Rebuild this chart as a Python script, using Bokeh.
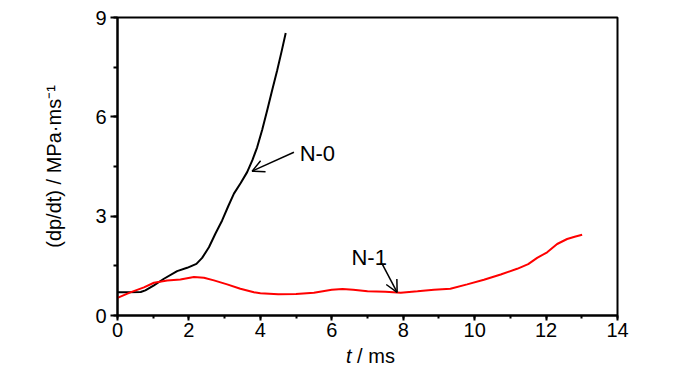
from bokeh.plotting import figure
from bokeh.models import Range1d, SingleIntervalTicker, Label, Arrow, OpenHead, Div
from bokeh.layouts import column
from bokeh.embed import file_html
from bokeh.resources import INLINE

# N-0 (black)
t_n0 = [0.0, 0.3, 0.65, 0.78, 1.02, 1.3, 1.67, 1.95, 2.21, 2.37, 2.56, 2.74, 2.93,
        3.1, 3.26, 3.45, 3.63, 3.78, 3.91, 4.05, 4.19, 4.33, 4.47, 4.6, 4.71]
y_n0 = [0.70, 0.70, 0.71, 0.76, 0.91, 1.11, 1.34, 1.44, 1.56, 1.74, 2.06, 2.47, 2.87,
        3.30, 3.68, 4.00, 4.33, 4.70, 5.08, 5.60, 6.19, 6.80, 7.40, 8.00, 8.53]

# N-1 (red)
t_n1 = [0.0, 0.36, 0.74, 1.02, 1.39, 1.76, 2.14, 2.42, 2.7, 3.07, 3.44, 3.82, 4.0,
        4.5, 5.0, 5.5, 6.0, 6.3, 6.6, 7.0, 7.5, 7.93, 8.4, 8.86, 9.32, 9.79,
        10.26, 10.73, 11.19, 11.5, 11.75, 12.03, 12.31, 12.59, 12.8, 13.01]
y_n1 = [0.53, 0.70, 0.85, 0.99, 1.06, 1.09, 1.16, 1.14, 1.06, 0.94, 0.81, 0.70, 0.67,
        0.64, 0.65, 0.69, 0.78, 0.80, 0.78, 0.73, 0.72, 0.69, 0.73, 0.78, 0.81, 0.94,
        1.08, 1.24, 1.41, 1.55, 1.74, 1.91, 2.16, 2.31, 2.38, 2.44]

FONT = "Liberation Sans"

p = figure(frame_width=500, frame_height=298, output_backend="svg", toolbar_location=None,
           x_range=Range1d(0, 14), y_range=Range1d(0, 9),
           min_border_left=117, min_border_right=67, min_border_top=17, min_border_bottom=30)
p.grid.visible = False
p.outline_line_color = "black"
p.outline_line_width = 2
p.background_fill_color = "white"
p.border_fill_color = "white"

p.line(t_n0, y_n0, line_color="black", line_width=2)
p.line(t_n1, y_n1, line_color="#ff0000", line_width=2)

p.xaxis.ticker = SingleIntervalTicker(interval=2, num_minor_ticks=2)
p.yaxis.ticker = SingleIntervalTicker(interval=3, num_minor_ticks=2)
for ax in (p.xaxis[0], p.yaxis[0]):
    ax.axis_line_width = 2
    ax.major_tick_line_width = 2
    ax.minor_tick_line_width = 2
    ax.major_tick_in = 0
    ax.minor_tick_in = 0
    ax.major_label_text_font = FONT
    ax.major_label_text_font_size = "20px"
    ax.major_label_text_color = "black"
    ax.axis_label_text_font = FONT
    ax.axis_label_text_font_size = "20px"
    ax.axis_label_text_font_style = "normal"
    ax.axis_label_text_color = "black"
p.xaxis.major_tick_out = 5
p.xaxis.minor_tick_out = 3
p.xaxis.major_label_standoff = 2
p.yaxis.major_tick_out = 7
p.yaxis.minor_tick_out = 4
p.yaxis.major_label_standoff = 4
p.yaxis.axis_label = "(dp/dt) / MPa\u00b7ms\u207b\u00b9"
p.yaxis.axis_label_standoff = 27

# annotations
p.add_layout(Label(x=5.10, y=4.88, text="N-0", text_font=FONT, text_font_size="22px",
                   text_color="black", text_align="left", text_baseline="alphabetic"))
p.add_layout(Arrow(x_start=4.94, y_start=4.93, x_end=3.77, y_end=4.36, line_width=1.5,
                   end=OpenHead(size=12, line_width=1.5)))
p.add_layout(Label(x=6.55, y=1.76, text="N-1", text_font=FONT, text_font_size="22px",
                   text_color="black", text_align="left", text_baseline="alphabetic"))
p.add_layout(Arrow(x_start=7.41, y_start=1.56, x_end=7.83, y_end=0.70, line_width=1.5,
                   end=OpenHead(size=12, line_width=1.5)))

# x-axis label with italic t
xlabel = Div(text="<i>t</i> / ms", width=684, height=26, margin=(0, 0, 0, 0),
             styles={"font-family": FONT, "font-size": "20px", "color": "black",
                     "padding-left": "346px", "line-height": "22px"})

layout = column(p, xlabel, spacing=0)
open("out.html", "w").write(file_html(layout, INLINE))
